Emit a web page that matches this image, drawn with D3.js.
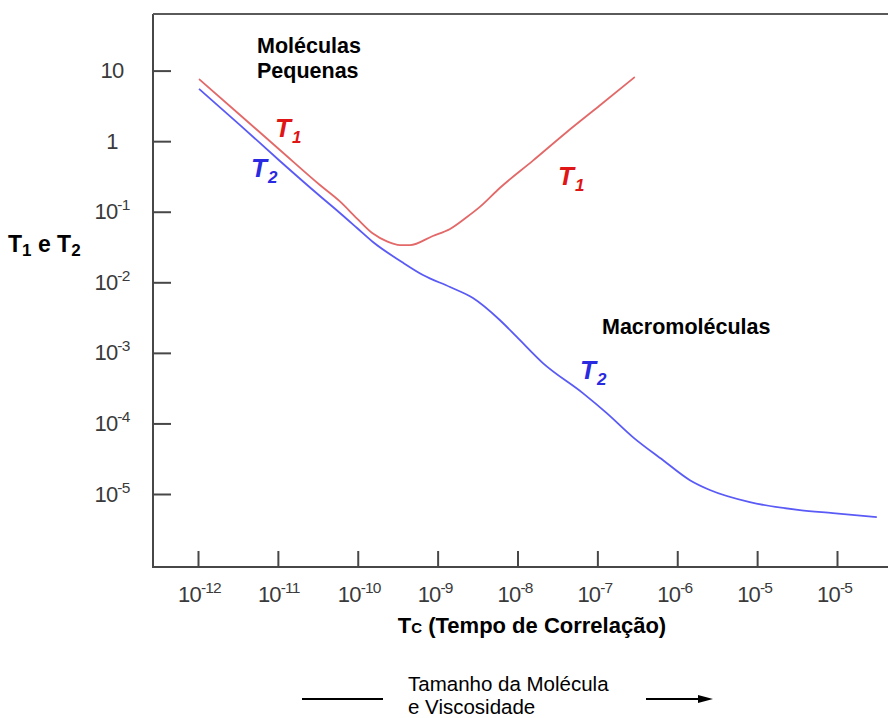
<!DOCTYPE html>
<html><head><meta charset="utf-8">
<script src="https://cdn.jsdelivr.net/npm/d3@7"></script>
<style>
html,body{margin:0;padding:0;background:#fff;}
svg{display:block;font-family:"Liberation Sans",Arial,Helvetica,sans-serif;}
</style></head>
<body>
<svg id="chart" width="888" height="718"></svg>
<script>
// ---- data ----
const tauT1 = [1.03e-12,3.36e-12,1.06e-11,3.36e-11,5.98e-11,9.8e-11,1.55e-10,2.32e-10,3.37e-10,4.5e-10,8.7e-10,1.43e-9,2.33e-9,3.38e-9,6.0e-9,1.56e-8,4.15e-8,1.07e-7,2.94e-7];
const valT1 = [7.6,2.35,0.75,0.239,0.14,0.08,0.049,0.038,0.0337,0.0337,0.0453,0.0569,0.0841,0.117,0.217,0.53,1.35,3.2,8.1];
const tauT2 = [1.03e-12,3.36e-12,1.06e-11,3.36e-11,5.98e-11,9.8e-11,1.55e-10,3.57e-10,6.55e-10,1.43e-9,2.77e-9,6.0e-9,9.8e-9,2.08e-8,6.58e-8,1.31e-7,2.78e-7,6.6e-7,1.44e-6,2.56e-6,8.1e-6,3.42e-5,8.85e-5,3.15e-4];
const valT2 = [5.5,1.69,0.524,0.167,0.096,0.0588,0.0372,0.0194,0.0127,0.00857,0.00598,0.00292,0.00168,7.16e-4,2.69e-4,1.40e-4,6.41e-5,3.03e-5,1.57e-5,1.14e-5,7.67e-6,5.91e-6,5.36e-6,4.70e-6];
const xTickValues = [1e-12,1e-11,1e-10,1e-9,1e-8,1e-7,1e-6,1e-5,1e-4];
const xTickLabels = ["10^-12","10^-11","10^-10","10^-9","10^-8","10^-7","10^-6","10^-5","10^-5"];
const yTickValues = [10,1,0.1,0.01,1e-3,1e-4,1e-5];
const yTickLabels = ["10","1","10^-1","10^-2","10^-3","10^-4","10^-5"];

// ---- layout ----
const svg = d3.select("#chart");
const frame = {left:153, top:14, right:888, bottom:567};
const x = d3.scaleLog().domain([1e-12,1e-4]).range([198,837]);
const y = d3.scaleLog().domain([10,1e-5]).range([70.6,494]);
const axisColor = "#474747", textColor = "#3a3a3a";

// frame
const fr = svg.append("g").attr("stroke",axisColor).attr("stroke-width",2).attr("fill","none");
fr.append("line").attr("x1",frame.left).attr("x2",frame.left).attr("y1",frame.top).attr("y2",frame.bottom+1);
fr.append("line").attr("x1",frame.left).attr("x2",frame.right).attr("y1",frame.top).attr("y2",frame.top).attr("stroke","#5a5a5a");
fr.append("line").attr("x1",frame.left-1).attr("x2",frame.right).attr("y1",frame.bottom).attr("y2",frame.bottom);

// x axis ticks
const gx = svg.append("g").attr("transform",`translate(0,${frame.bottom})`)
  .call(d3.axisBottom(x).tickValues(xTickValues).tickSizeInner(-16).tickSizeOuter(0).tickFormat(""));
gx.select(".domain").remove();
gx.selectAll(".tick line").attr("stroke",axisColor).attr("stroke-width",2);

// y axis ticks
const gy = svg.append("g").attr("transform",`translate(${frame.left},0)`)
  .call(d3.axisLeft(y).tickValues(yTickValues).tickSizeInner(-18).tickSizeOuter(0).tickFormat(""));
gy.select(".domain").remove();
gy.selectAll(".tick line").attr("stroke",axisColor).attr("stroke-width",2);

function powLabel(sel, label){
  const [base, exp] = label.split("^");
  sel.append("tspan").text(base);
  if (exp) sel.append("tspan").attr("font-size",15.5).attr("dy",-9).text(exp);
}
// x tick labels
xTickValues.forEach((v,i)=>{
  const t = svg.append("text").attr("x",x(v)-20).attr("y",602)
    .attr("font-size",22).attr("fill",textColor).attr("letter-spacing",-0.8);
  powLabel(t, xTickLabels[i]);
});
// y tick labels
yTickValues.forEach((v,i)=>{
  const t = svg.append("text").attr("x",112).attr("y",y(v)+7.5).attr("text-anchor","middle")
    .attr("font-size",22).attr("fill",textColor).attr("letter-spacing",-0.8);
  powLabel(t, yTickLabels[i]);
});

// curves
const line = d3.line().x(d=>x(d[0])).y(d=>y(d[1])).curve(d3.curveMonotoneX);
svg.append("path").datum(tauT1.map((t,i)=>[t,valT1[i]])).attr("d",line)
  .attr("fill","none").attr("stroke","#e36868").attr("stroke-width",1.8);
svg.append("path").datum(tauT2.map((t,i)=>[t,valT2[i]])).attr("d",line)
  .attr("fill","none").attr("stroke","#5a5af6").attr("stroke-width",1.8);

// curve labels
function tLabel(px, py, sub, color){
  const t = svg.append("text").attr("x",px).attr("y",py).attr("fill",color)
    .attr("font-weight","bold").attr("font-style","italic").attr("font-size",26);
  t.append("tspan").text("T");
  t.append("tspan").attr("font-size",17).attr("dy",6).attr("dx",1).text(sub);
}
tLabel(275,137,"1","#e01515");
tLabel(558,185,"1","#e01515");
tLabel(251,177,"2","#2a2ae0");
tLabel(580,379,"2","#2a2ae0");

// annotations
const bold = {"font-weight":"bold","fill":"#000"};
function txt(str, px, py, size, attrs){
  const t = svg.append("text").attr("x",px).attr("y",py).attr("font-size",size).text(str);
  Object.entries(attrs||{}).forEach(([k,v])=>t.attr(k,v));
  return t;
}
txt("Moléculas",257,53,21.5,bold);
txt("Pequenas",257,78,21.5,bold);
txt("Macromoléculas",602,334,21.5,bold);

// y axis title
const yt = svg.append("text").attr("x",8).attr("y",252).attr("font-size",23).attr("font-weight","bold").attr("fill","#000");
yt.append("tspan").text("T");
yt.append("tspan").attr("font-size",17).attr("dy",4).text("1");
yt.append("tspan").attr("dy",-4).text(" e T");
yt.append("tspan").attr("font-size",17).attr("dy",4).text("2");

// x axis title
const xt = svg.append("text").attr("x",532).attr("y",633).attr("text-anchor","middle").attr("font-size",22).attr("font-weight","bold").attr("fill","#000");
xt.append("tspan").text("T");
xt.append("tspan").attr("font-size",15).text("C");
xt.append("tspan").text(" (Tempo de Correlação)");

// bottom note
svg.append("line").attr("x1",302).attr("x2",383).attr("y1",699).attr("y2",699).attr("stroke","#000").attr("stroke-width",2.2);
txt("Tamanho da Molécula",408,691,20.5,{"fill":"#000"});
txt("e Viscosidade",408,714,20.5,{"fill":"#000"});
svg.append("line").attr("x1",646).attr("x2",700).attr("y1",699).attr("y2",699).attr("stroke","#000").attr("stroke-width",2);
svg.append("path").attr("d","M698,695 L713,699 L698,703 Z").attr("fill","#000");
</script>
</body></html>
